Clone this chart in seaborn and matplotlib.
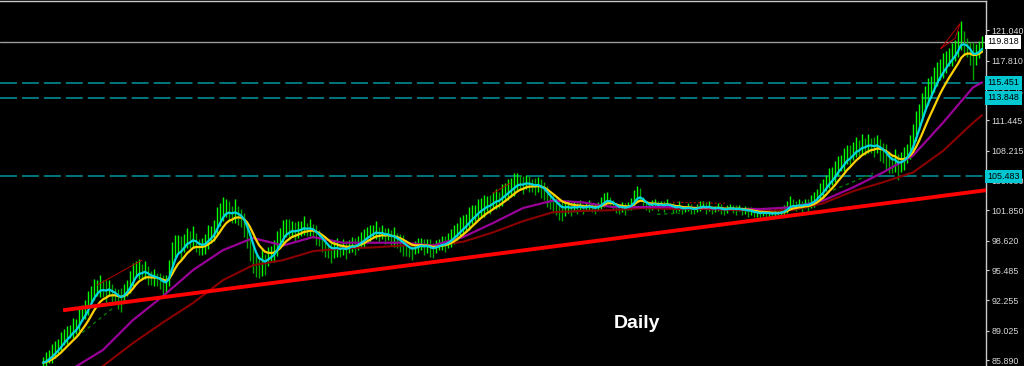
import numpy as np
import pandas as pd
import matplotlib
matplotlib.use("Agg")
import matplotlib.pyplot as plt
import matplotlib.transforms as mtransforms
import seaborn as sns

# ---------------- data ----------------
# daily bar mid prices (one per bar)
mids = [
    85.6, 85.9, 86.3, 86.6, 87.0, 87.4, 87.8, 88.3, 88.6, 88.9,
    89.3, 89.5, 90.2, 90.9, 91.3, 92.0, 92.8, 93.4, 93.6, 93.8,
    93.5, 93.2, 93.6, 93.0, 92.8, 92.4, 92.3, 93.0, 93.6, 94.2,
    95.0, 95.6, 95.6, 95.3, 95.5, 94.9, 94.6, 94.7, 94.5, 94.3,
    93.9, 94.0, 95.2, 97.0, 98.0, 98.2, 97.8, 98.4, 98.9, 98.7,
    99.0, 98.4, 97.9, 98.0, 98.3, 99.0, 99.3, 99.7, 100.8, 101.4,
    102.0, 102.1, 101.8, 101.4, 101.8, 101.3, 101.0, 100.3, 99.2, 98.0,
    96.8, 96.0, 95.8, 96.3, 96.1, 96.9, 97.2, 97.5, 98.3, 98.9,
    99.6, 100.0, 99.8, 99.9, 99.6, 99.8, 99.9, 100.2, 99.8, 100.0,
    99.7, 99.2, 98.9, 98.4, 98.0, 97.6, 97.4, 97.7, 97.9, 97.6,
    97.9, 97.6, 98.0, 98.2, 98.0, 98.4, 98.7, 98.9, 99.3, 99.4,
    99.6, 99.8, 99.3, 99.5, 99.1, 99.3, 98.9, 99.0, 98.6, 98.4,
    98.1, 97.8, 97.6, 97.5, 97.9, 98.1, 98.3, 97.9, 98.1, 97.8,
    97.6, 98.0, 98.2, 98.4, 98.3, 98.6, 98.9, 99.3, 99.6, 100.0,
    100.3, 100.6, 101.0, 101.4, 101.6, 102.0, 102.2, 102.3, 102.6, 102.5,
    102.9, 103.1, 103.0, 103.5, 103.8, 104.1, 104.3, 104.6, 104.9, 104.8,
    104.6, 104.9, 104.7, 104.5, 104.4, 104.6, 104.2, 103.9, 103.3, 102.9,
    102.6, 102.3, 102.0, 101.8, 102.1, 102.3, 102.0, 102.3, 102.1, 102.4,
    102.0, 102.2, 102.4, 102.1, 102.0, 102.3, 102.6, 103.0, 103.2, 102.8,
    102.5, 102.1, 101.9, 102.2, 102.0, 102.3, 102.5, 103.1, 103.7, 103.5,
    102.8, 102.3, 102.1, 102.4, 102.6, 102.3, 102.5, 102.3, 102.6, 102.3,
    102.1, 102.0, 102.3, 101.9, 102.0, 102.2, 102.0, 101.9, 102.1, 102.3,
    102.4, 102.1, 102.3, 101.9, 102.0, 102.2, 102.0, 101.8, 102.0, 102.2,
    102.0, 101.9, 102.1, 101.8, 101.9, 101.7, 101.8, 101.5, 101.6, 101.4,
    101.7, 101.5, 101.6, 101.4, 101.6, 101.5, 101.7, 101.9, 102.2, 102.6,
    102.5, 102.3, 102.5, 102.3, 102.6, 102.4, 102.8, 103.0, 103.4, 103.9,
    104.2, 104.8, 105.3, 105.5, 106.0, 106.6, 106.9, 107.3, 107.8, 107.7,
    108.2, 108.6, 108.5, 108.9, 108.7, 109.0, 108.8, 108.6, 108.9, 108.3,
    108.0, 107.6, 107.0, 106.8, 107.2, 106.5, 107.0, 107.4, 107.9, 108.6,
    109.6, 110.8, 111.8, 112.9, 113.8, 114.5, 115.0, 115.8, 116.4, 116.9,
    117.3, 117.7, 118.2, 118.5, 118.9, 119.6, 120.5, 119.7, 119.2, 118.6,
    117.8, 118.5, 119.0, 119.6,
]
# daily high-low range of each bar
spans = [
    1.2, 1.6, 1.4, 2.0, 1.8, 1.5, 2.2, 1.7, 1.9, 1.4,
    2.1, 1.6, 2.4, 1.8, 2.0, 2.6, 1.9, 2.2, 1.7, 2.3,
    1.8, 2.4, 1.6, 2.0, 1.5, 2.2, 2.6, 1.9, 1.7, 2.3,
    2.5, 1.8, 2.1, 1.6, 1.9, 2.0, 1.5, 1.8, 1.4, 1.7,
    2.2, 1.9, 2.8, 3.0, 2.4, 2.0, 2.6, 1.9, 2.2, 1.8,
    2.4, 2.0, 1.7, 1.9, 2.1, 2.5, 1.8, 2.3, 2.9, 2.4,
    2.6, 2.0, 2.2, 1.8, 2.5, 2.1, 1.9, 2.6, 2.8, 3.0,
    3.2, 2.6, 2.4, 2.8, 2.2, 2.0, 1.8, 2.3, 2.6, 2.1,
    2.4, 1.9, 2.2, 1.7, 2.0, 1.8, 1.6, 2.0, 1.4, 1.8,
    1.5, 2.1, 1.7, 1.9, 2.2, 1.6, 2.4, 1.8, 2.0, 1.5,
    1.7, 1.9, 1.4, 1.6, 1.8, 1.5, 1.7, 2.0, 1.6, 1.8,
    1.4, 1.9, 1.6, 1.5, 1.7, 1.3, 1.8, 2.1, 1.6, 1.9,
    2.2, 1.7, 1.5, 1.8, 1.4, 1.6, 1.3, 1.7, 1.5, 1.9,
    1.6, 1.4, 1.2, 1.5, 1.7, 1.6, 1.9, 2.0, 1.8, 2.2,
    2.1, 1.8, 2.4, 2.0, 1.7, 2.2, 1.9, 2.3, 1.6, 2.0,
    1.8, 2.1, 1.7, 2.4, 1.9, 2.2, 2.0, 2.5, 1.8, 1.6,
    1.9, 1.5, 1.7, 1.4, 1.8, 1.6, 2.0, 1.9, 2.2, 1.7,
    2.0, 1.8, 2.3, 2.1, 1.6, 1.4, 1.5, 1.2, 1.3, 1.1,
    1.0, 0.8, 1.2, 0.9, 1.1, 0.8, 1.3, 1.5, 1.2, 1.0,
    0.9, 1.1, 0.8, 1.0, 1.2, 0.9, 1.3, 1.8, 1.6, 1.4,
    1.0, 0.9, 0.8, 1.1, 0.9, 1.0, 0.8, 1.2, 0.9, 0.7,
    1.0, 0.8, 1.1, 0.9, 0.7, 0.8, 1.0, 0.9, 0.8, 1.1,
    0.9, 1.2, 1.0, 0.8, 0.7, 0.9, 1.0, 0.8, 0.9, 0.7,
    0.8, 1.0, 0.7, 0.9, 0.8, 1.1, 0.9, 0.8, 1.0, 0.7,
    0.9, 0.8, 1.0, 0.7, 0.9, 0.8, 1.0, 1.1, 1.3, 1.5,
    1.2, 1.0, 1.1, 1.2, 1.0, 1.3, 1.4, 1.6, 1.5, 1.8,
    2.0, 1.7, 2.2, 1.9, 2.3, 2.1, 1.8, 2.4, 2.0, 2.2,
    1.9, 2.1, 1.7, 2.3, 1.8, 2.0, 1.6, 2.2, 1.9, 2.4,
    2.1, 2.6, 2.3, 2.0, 2.5, 2.8, 2.2, 2.4, 2.0, 2.6,
    3.0, 3.2, 2.8, 3.0, 2.6, 2.9, 2.4, 2.7, 2.5, 2.2,
    2.6, 2.3, 2.0, 2.4, 2.2, 2.8, 3.0, 2.6, 2.0, 2.4,
    4.0, 2.2, 1.8, 1.6,
]
# slow moving averages, sampled every 10 bars (+ last bar)
ma_days = [0, 10, 20, 30, 40, 50, 60, 70, 80, 90, 100, 110, 120, 130, 140, 150,
           160, 170, 180, 190, 200, 210, 220, 230, 240, 250, 260, 270, 280, 290,
           300, 310, 313]
ma_purple = [83.2, 85.0, 86.96, 90.15, 92.7, 95.48, 97.61, 98.9, 98.1, 99.0, 98.4,
             98.4, 98.4, 98.1, 99.0, 100.5, 102.1, 102.9, 102.7, 102.2, 102.2,
             102.2, 102.1, 102.0, 102.0, 102.2, 102.9, 104.3, 105.9, 107.7, 111.2,
             114.97, 115.5]
ma_maroon = [81.6, 83.2, 85.25, 87.7, 89.9, 91.97, 94.41, 96.0, 96.54, 97.5, 97.8,
             97.9, 98.1, 98.1, 98.5, 99.5, 100.7, 101.66, 101.8, 101.87, 102.1,
             102.0, 102.0, 101.9, 101.8, 101.9, 102.6, 103.9, 104.85, 105.9, 108.2,
             111.2, 112.0]

# drawn objects (bar index, price)
trend_days = [6.7, 315.0]
trend_prices = [91.2, 104.03]
thin_red = [([18.0, 33.0], [93.88, 96.54]),
            ([150.0, 155.7], [103.68, 104.75]),
            ([299.3, 305.7, 304.0, 299.3], [119.13, 121.79, 120.19, 119.13])]
dotted_red = ([210.0, 228.0], [102.72, 102.6])
dashed_green = [([11.3, 23.3], [88.34, 91.43]),
                ([204.7, 212.3], [101.44, 101.55]),
                ([263.3, 276.7], [104.0, 105.8])]

current_price = 119.818
levels = [115.451, 113.848, 105.483]
tick_values = [121.040, 117.810, 114.575, 111.445, 108.215, 105.080,
               101.850, 98.620, 95.485, 92.255, 89.025, 85.890]
timeframe = "Daily"

# ---------------- style ----------------
sns.set_style("dark", rc={"axes.facecolor": "black", "figure.facecolor": "black",
                          "axes.grid": False})
plt.rcParams["font.family"] = ["Liberation Sans", "DejaVu Sans"]
plt.rcParams["lines.scale_dashes"] = False

fig = plt.figure(figsize=(10.24, 3.66), dpi=100)
ax = fig.add_axes([0, 0, 986 / 1024, 365.5 / 366])
ax.set_facecolor("black")

days = np.arange(len(mids))
mid_s = pd.Series(mids, dtype=float)
span_s = pd.Series(spans, dtype=float)
highs = mid_s + span_s / 2
lows = mid_s - span_s / 2
up = mid_s.diff().fillna(0) >= 0
bar_colors = np.where(up, "#00ff00", "#00a800")

# horizontal levels
ax.axhline(current_price, color="#9a9a9a", lw=1.0, zorder=1)
for lv in levels:
    ax.axhline(lv, color="#00959e", lw=1.1, dashes=(12.2, 3.6), zorder=1)

# bars
ax.vlines(days, lows, highs, colors=bar_colors, linewidth=1.0, zorder=2)

# moving averages
fast = mid_s.ewm(span=4, adjust=False).mean()
slow = mid_s.ewm(span=9, adjust=False).mean()
sns.lineplot(x=ma_days, y=ma_maroon, ax=ax, color="#8a0000", linewidth=1.5,
             legend=False, zorder=3)
sns.lineplot(x=ma_days, y=ma_purple, ax=ax, color="#980098", linewidth=1.6,
             legend=False, zorder=3)
sns.lineplot(x=days, y=slow.values, ax=ax, color="#ffd000", linewidth=1.6,
             legend=False, zorder=4)
sns.lineplot(x=days, y=fast.values, ax=ax, color="#00d4e0", linewidth=1.6,
             legend=False, zorder=5)

# drawn objects
for xs, ys in dashed_green:
    ax.plot(xs, ys, color="#007a00", lw=1.0, ls=(0, (2.5, 2.5)), zorder=3)
ax.plot(dotted_red[0], dotted_red[1], color="#b00000", lw=0.8, ls=(0, (1.5, 1.5)), zorder=3)
for xs, ys in thin_red:
    ax.plot(xs, ys, color="#b40000", lw=0.7, zorder=6)
ax.plot(trend_days, trend_prices, color="#ff0000", lw=2.8, zorder=6,
        solid_capstyle="butt")

# axes
ax.set_xlim(-14.33, 314.33)
ax.set_ylim(85.25, 124.24)
ax.set_xticks([])
ax.yaxis.tick_right()
ax.set_yticks(tick_values)
ax.set_yticklabels([f"{v:.3f}" for v in tick_values])
ax.tick_params(axis="y", colors="#d8d8d8", labelsize=6.4, length=2.5, width=0.8,
               pad=1.5, right=True, left=False)
for side in ["left", "bottom"]:
    ax.spines[side].set_visible(False)
for side in ["right", "top"]:
    ax.spines[side].set_visible(True)
    ax.spines[side].set_color("#c8c8c8")
    ax.spines[side].set_linewidth(1.0)

trans = mtransforms.blended_transform_factory(ax.transAxes, ax.transData)
ax.text(1.0015, current_price, f"{current_price:.3f}", transform=trans, ha="left",
        va="center", fontsize=6.4, color="black", zorder=10, clip_on=False,
        bbox=dict(boxstyle="square,pad=0.25", fc="white", ec="none"))
for lv in levels:
    ax.text(1.0015, lv, f"{lv:.3f}", transform=trans, ha="left", va="center",
            fontsize=6.4, color="black", zorder=10, clip_on=False,
            bbox=dict(boxstyle="square,pad=0.25", fc="#00c8d2", ec="none"))

fig.text(637 / 1024, 1 - 323 / 366, timeframe, ha="center", va="center",
         color="white", fontsize=14, fontweight="bold")

fig.savefig("out.png", dpi=100, facecolor="black")
